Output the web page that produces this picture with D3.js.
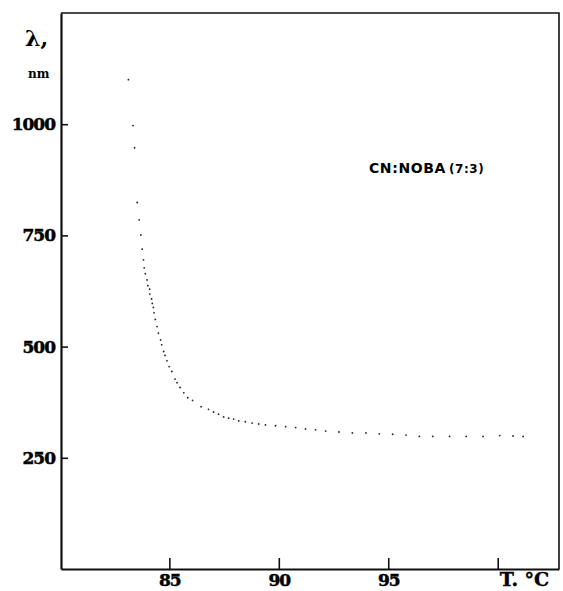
<!DOCTYPE html>
<html>
<head>
<meta charset="utf-8">
<script src="https://cdn.jsdelivr.net/npm/d3@7"></script>
<style>
  body { margin: 0; background: #fff; }
  .tick text { font-family: "DejaVu Serif", serif; font-weight: bold; font-size: 17px; letter-spacing: -1px; fill: #000; stroke: #000; stroke-width: 0.5px; }
</style>
</head>
<body>
<div class="chart"></div>
<script>
// temperature (deg C) and wavelength (nm)
var temps = [83.13, 83.34, 83.41, 83.53, 83.62, 83.70, 83.76, 83.82, 83.85, 83.90,
  83.98, 84.02, 84.10, 84.11, 84.19, 84.22, 84.27, 84.30, 84.36, 84.44,
  84.50, 84.60, 84.65, 84.74, 84.80, 84.89, 84.99, 85.11, 85.26, 85.35,
  85.49, 85.66, 85.84, 86.06, 86.45, 86.79, 87.02, 87.25, 87.48, 87.71,
  87.94, 88.17, 88.47, 88.78, 89.08, 89.39, 89.85, 90.31, 90.77, 91.22,
  91.68, 92.14, 92.75, 93.36, 93.98, 94.59, 95.20, 95.81, 96.42, 97.03,
  97.80, 98.56, 99.33, 100.09, 100.70, 101.16];
var lambdas = [1100, 997, 947, 824, 785, 751, 719, 695, 677, 664,
  650, 637, 629, 618, 607, 597, 588, 576, 561, 545,
  530, 515, 504, 489, 480, 468, 455, 444, 427, 419,
  408, 396, 385, 379, 365, 359, 353, 348, 342, 339,
  337, 333, 331, 328, 326, 324, 322, 320, 318, 315,
  313, 310, 308, 306, 306, 304, 303, 301, 298, 298,
  298, 298, 298, 300, 299, 298];
var xTicks = [85, 90, 95, 100];
var yTicks = [250, 500, 750, 1000];
var seriesLabel = "CN:NOBA";
var ratioLabel = "(7:3)";

var margin = { top: 13, right: 4, bottom: 22, left: 61 },
    width = 563 - margin.left - margin.right,
    height = 591 - margin.top - margin.bottom;

var svg = d3.select(".chart")
    .append("svg")
    .attr("width", 563)
    .attr("height", 591)
    .append("g")
    .attr("transform", "translate(" + margin.left + "," + margin.top + ")");

var x = d3.scaleLinear().domain([80.05, 102.8]).range([0, width]);
var y = d3.scaleLinear().domain([0, 1250]).range([height, 0]);

// frame (top and right sides)
svg.append("path")
    .attr("d", "M0,0H" + width + "V" + height)
    .attr("fill", "none")
    .attr("stroke", "#111")
    .attr("stroke-width", 1.6);

svg.append("g")
    .attr("transform", "translate(0," + height + ")")
    .call(d3.axisBottom(x)
        .tickValues(xTicks)
        .tickSizeInner(-11)
        .tickSizeOuter(0)
        .tickPadding(5)
        .tickFormat(function (d) { return d === 100 ? "" : d; }));

svg.append("g")
    .call(d3.axisLeft(y)
        .tickValues(yTicks)
        .tickSizeInner(-7)
        .tickSizeOuter(0)
        .tickPadding(6)
        .tickFormat(d3.format("d")));

svg.selectAll(".domain").attr("stroke", "#111").attr("stroke-width", 2.2);
svg.selectAll(".tick line").attr("stroke", "#111").attr("stroke-width", 1.6);

// axis titles
svg.append("text")
    .attr("x", x(100) + 2)
    .attr("y", height + 17)
    .style("font-family", "DejaVu Serif, serif")
    .style("font-weight", "bold")
    .style("font-size", "19px")
    .attr("fill", "#000")
    .attr("stroke", "#000")
    .attr("stroke-width", 0.4)
    .text("T. °C");

svg.append("text")
    .attr("x", -36)
    .attr("y", 33)
    .style("font-family", "DejaVu Serif, serif")
    .style("font-weight", "bold")
    .style("font-size", "22px")
    .attr("fill", "#000")
    .text("λ,");

svg.append("text")
    .attr("x", -33)
    .attr("y", 65)
    .style("font-family", "DejaVu Serif, serif")
    .style("font-weight", "bold")
    .style("font-size", "12px")
    .attr("fill", "#000")
    .text("nm");

// legend label
var lab = svg.append("text")
    .attr("x", 308)
    .attr("y", 160)
    .style("font-family", "DejaVu Sans, sans-serif")
    .style("font-weight", "bold")
    .style("font-size", "14px")
    .style("letter-spacing", "0.6px")
    .attr("fill", "#000");
lab.append("tspan").text(seriesLabel);
lab.append("tspan").attr("dx", 3).style("font-size", "12px").text(ratioLabel);

// data dots
var pts = temps.map(function (t, i) { return { t: t, l: lambdas[i] }; });
svg.selectAll("circle")
    .data(pts)
    .enter()
    .append("circle")
    .attr("cx", function (d) { return x(d.t); })
    .attr("cy", function (d) { return y(d.l); })
    .attr("r", 0.9)
    .attr("fill", "#222");
</script>
</body>
</html>
